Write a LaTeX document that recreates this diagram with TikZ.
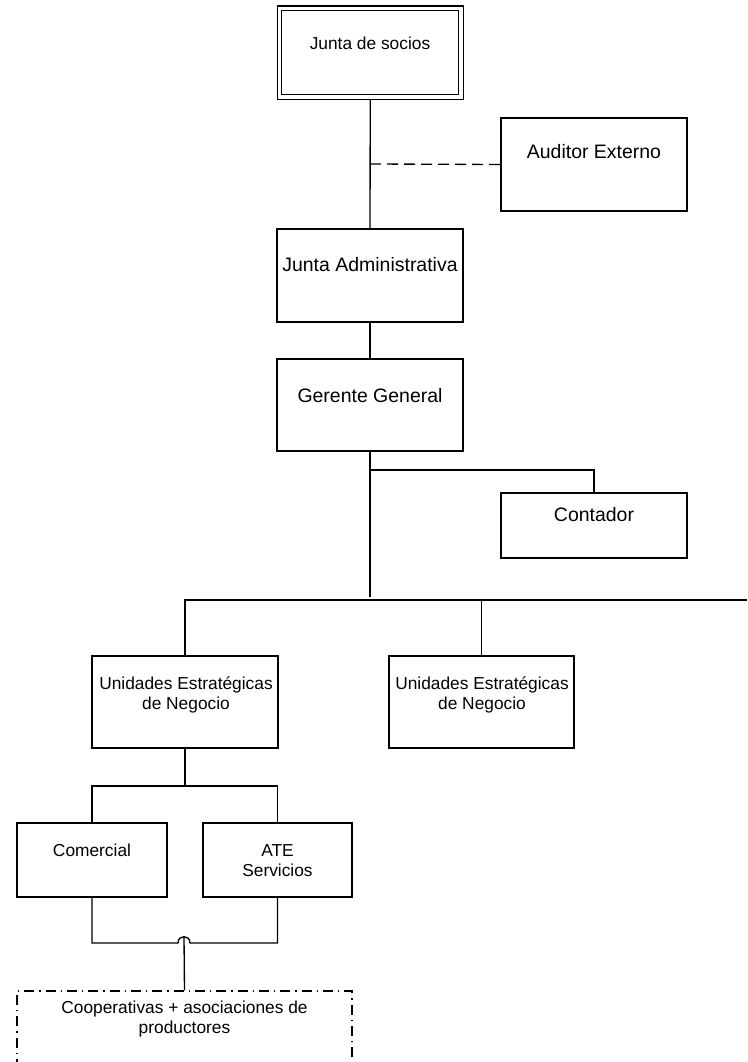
\documentclass[tikz,border=0pt]{standalone}
\usepackage{fontspec}
\setmainfont{Liberation Sans}
\usetikzlibrary{fit}
\begin{document}
\begin{tikzpicture}[x=0.75pt,y=-0.75pt,
  line width=1pt,
  box/.style={draw, inner sep=0pt, fit={#1}},
  dbox/.style={draw, double, double distance=2.4pt, inner sep=0pt, fit={#1}},
  ddbox/.style={draw, inner sep=0pt, fit={#1}, dash pattern=on 7.5pt off 3.75pt on 1pt off 3.75pt},
  big/.style={font=\fontsize{14.6}{17.5}\selectfont, inner sep=0pt, anchor=base},
  small/.style={font=\fontsize{13}{15}\selectfont, inner sep=0pt, anchor=base},
  smallml/.style={font=\fontsize{13}{15}\selectfont, inner sep=0pt, anchor=north, align=center},
  conn/.style={draw, line width=1pt},
  dash conn/.style={draw, line width=1pt, dash pattern=on 8.25pt off 4.5pt}
]
\useasboundingbox (0,0) rectangle (747,1062);

% boxes
\node[dbox={(279.5,8.3) (461,97)}] (js) {};
\node[box={(501,118) (687,211)}] (aud) {};
\node[box={(277,229) (463,322)}] (ja) {};
\node[box={(277,359) (463,451)}] (gg) {};
\node[box={(501,493) (687,558)}] (ct) {};
\node[box={(92,656) (278,748)}] (uen1) {};
\node[box={(389,656) (574,748)}] (uen2) {};
\node[box={(17,823) (167,897)}] (com) {};
\node[box={(203,823) (352,897)}] (ate) {};
\node[ddbox={(17,991) (352,1085)}] (coop) {};

% texts
\node[small] (jst) at (370,50) {Junta de socios};
\node[big] (audt) at (594,159) {Auditor Externo};
\node[big] (jat) at (370,272) {Junta Administrativa};
\node[big] (ggt) at (370,402) {Gerente General};
\node[big] (ctt) at (594,521) {Contador};
\node[smallml] (uen1t) at (186,676) {Unidades Estratégicas\\de Negocio};
\node[smallml] (uen2t) at (482,676) {Unidades Estratégicas\\de Negocio};
\node[small] (comt) at (92,856) {Comercial};
\node[smallml] (atet) at (277.5,843.5) {ATE\\Servicios};
\node[smallml] (coopt) at (184.5,1000) {Cooperativas + asociaciones de\\productores};

% connector coordinates
\coordinate (audj) at (370,164);
\coordinate (ctj) at (370,470);
\coordinate (ggend) at (370,597);
\coordinate (busR) at (747,600);
\coordinate (uenj) at (185,786);
\coordinate (botL) at (92,943);
\coordinate (hopL) at (178,943);
\coordinate (hopR) at (190,943);
\coordinate (hopT) at (184,937);

% connectors
\path[conn] ([yshift=-1.5pt]js.south) -- (ja.north);
\path[dash conn] (audj) -- (aud.west);
\path[conn] (ja.south) -- (gg.north);
\path[conn] (gg.south) -- (ggend);
\path[conn] (ctj) -| (ct.north);
\path[conn] (uen1.north) |- (busR);
\path[conn] (uen2.north) -- (uen2.north |- busR);
\path[conn] (uen1.south) -- (uenj);
\path[conn] (com.north) |- (uenj) -| (ate.north);
\path[conn] (com.south) -- (botL) -- (hopL)
   .. controls (178,934.5) and (190,934.5) .. (hopR) -| (ate.south);
\path[conn] (coop.north) -- (hopT);
\end{tikzpicture}
\end{document}
